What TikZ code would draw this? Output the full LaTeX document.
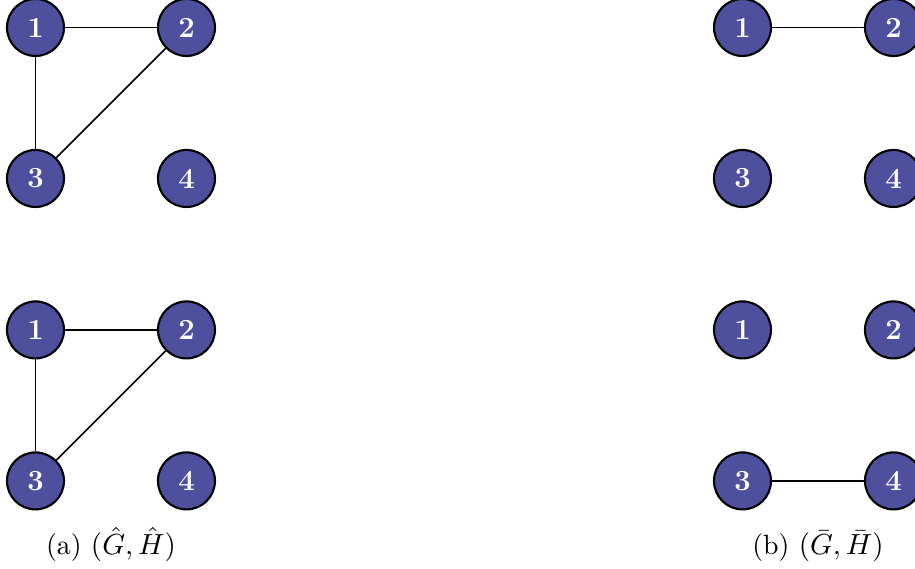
\documentclass[tikz,border=0pt]{standalone}
\usepackage{amsmath,amssymb}
\usepackage{xcolor}
\usepackage{tikz}
\usetikzlibrary{positioning}

\definecolor{nodeblue}{RGB}{78,80,158}

\begin{document}
\begin{tikzpicture}[
    on grid,
    node distance=2cm,
    vertex/.style={circle, draw, line width=0.8pt, fill=nodeblue, text=white, minimum size=0.755cm, inner sep=0pt, font=\fontsize{11}{13}\selectfont\bfseries},
    edge/.style={draw, line width=0.6pt},
    caption/.style={anchor=base, font=\fontsize{10.5}{12.5}\selectfont}
]
    \useasboundingbox (0,0) rectangle (12.12,-7.536);

    % (a) top pair
    \node [vertex] (a1) at (0.47,-0.364) {1};
    \node [vertex, right=of a1] (a2) {2};
    \node [vertex, below=of a1] (a3) {3};
    \node [vertex, right=of a3] (a4) {4};
    % (a) bottom pair
    \node [vertex] (ab1) at (0.47,-4.37) {1};
    \node [vertex, right=of ab1] (ab2) {2};
    \node [vertex, below=of ab1] (ab3) {3};
    \node [vertex, right=of ab3] (ab4) {4};

    % (b) top pair
    \node [vertex] (b1) at (9.835,-0.364) {1};
    \node [vertex, right=of b1] (b2) {2};
    \node [vertex, below=of b1] (b3) {3};
    \node [vertex, right=of b3] (b4) {4};
    % (b) bottom pair
    \node [vertex] (bb1) at (9.835,-4.37) {1};
    \node [vertex, right=of bb1] (bb2) {2};
    \node [vertex, below=of bb1] (bb3) {3};
    \node [vertex, right=of bb3] (bb4) {4};

    \path [edge] (a1) -- (a2);
    \path [edge] (a1) -- (a3);
    \path [edge] (a2) -- (a3);
    \path [edge] (ab1) -- (ab2);
    \path [edge] (ab1) -- (ab3);
    \path [edge] (ab2) -- (ab3);
    \path [edge] (b1) -- (b2);
    \path [edge] (bb3) -- (bb4);

    % captions
    \node [caption] (capa) at (1.47,-7.35) {(a) $(\hat{G},\hat{H})$};
    \node [caption] (capb) at (10.835,-7.35) {(b) $(\bar{G},\bar{H})$};
\end{tikzpicture}
\end{document}
